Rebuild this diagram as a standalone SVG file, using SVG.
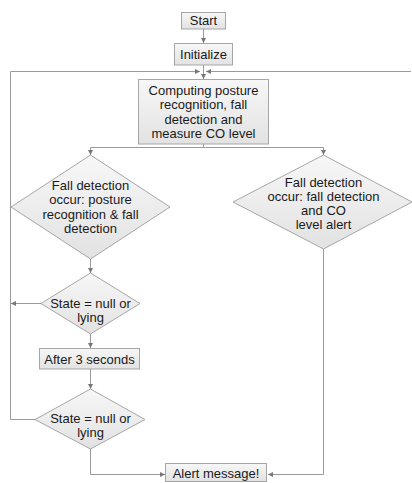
<svg xmlns="http://www.w3.org/2000/svg" width="412" height="483" viewBox="0 0 412 483">
<defs>
<linearGradient id="g" x1="0" y1="0" x2="0" y2="1">
<stop offset="0" stop-color="#f7f7f7"/>
<stop offset="1" stop-color="#e2e2e2"/>
</linearGradient>
<marker id="a" viewBox="0 0 6 6" refX="6" refY="3" markerWidth="5" markerHeight="5" orient="auto" markerUnits="userSpaceOnUse">
<path d="M0,0 L6,3 L0,6 z" fill="#777"/>
</marker>
<style>
.n{fill:url(#g);stroke:#a6a6a6;stroke-width:1}
.c{fill:none;stroke:#9a9a9a;stroke-width:1}
.t{font-family:"Liberation Sans",Arial,sans-serif;font-size:13px;fill:#1a1a1a;text-anchor:middle}
</style>
</defs>
<rect width="412" height="483" fill="#fff"/>
<g id="connectors">
<path class="c" d="M203.5,29 V43" marker-end="url(#a)"/>
<path class="c" d="M203.5,65 V79" marker-end="url(#a)"/>
<path class="c" d="M35,419.5 H10.5 V71.5 H200" marker-end="url(#a)"/>
<path class="c" d="M411,71.5 H206" marker-end="url(#a)"/>
<path class="c" d="M41,303.5 H11" marker-end="url(#a)"/>
<path class="c" d="M203.5,144 V147.5 H90.5 V155" marker-end="url(#a)"/>
<path class="c" d="M203.5,147.5 H323.5 V155" marker-end="url(#a)"/>
<path class="c" d="M90.5,259 V273" marker-end="url(#a)"/>
<path class="c" d="M90.5,334 V348" marker-end="url(#a)"/>
<path class="c" d="M90.5,369 V389" marker-end="url(#a)"/>
<path class="c" d="M90.5,449 V474.5 H165" marker-end="url(#a)"/>
<path class="c" d="M323.5,249 V474.5 H268" marker-end="url(#a)"/>
</g>
<g id="start">
<rect class="n" x="181.5" y="12.5" width="44" height="16.5"/>
<text class="t" x="203.5" y="25">Start</text>
</g>
<g id="initialize">
<rect class="n" x="174.5" y="43.5" width="58" height="21.5"/>
<text class="t" x="203.5" y="58.5">Initialize</text>
</g>
<g id="compute">
<rect class="n" x="138.5" y="79.5" width="130" height="64.5"/>
<text class="t" x="203.5" y="94.5">Computing posture</text>
<text class="t" x="203.5" y="109">recognition, fall</text>
<text class="t" x="203.5" y="123.5">detection and</text>
<text class="t" x="203.5" y="138">measure CO level</text>
</g>
<g id="decision-posture">
<polygon class="n" points="90.5,155 170,207 90.5,259 11,207"/>
<text class="t" x="90.5" y="189.5">Fall detection</text>
<text class="t" x="90.5" y="204">occur: posture</text>
<text class="t" x="90.5" y="218.5">recognition &amp; fall</text>
<text class="t" x="90.5" y="233">detection</text>
</g>
<g id="decision-co">
<polygon class="n" points="323.5,155 412,202 323.5,249 233,202"/>
<text class="t" x="323.5" y="186.5">Fall detection</text>
<text class="t" x="323.5" y="200.5">occur: fall detection</text>
<text class="t" x="323.5" y="214.5">and CO</text>
<text class="t" x="323.5" y="228.5">level alert</text>
</g>
<g id="state1">
<polygon class="n" points="90.5,273 140,303.5 90.5,334 41,303.5"/>
<text class="t" x="90.5" y="307.5">State = null or</text>
<text class="t" x="90.5" y="321.5">lying</text>
</g>
<g id="wait">
<rect class="n" x="39.5" y="348.5" width="100" height="20.5"/>
<text class="t" x="89.5" y="363.5">After 3 seconds</text>
</g>
<g id="state2">
<polygon class="n" points="90.5,389 145,419.5 90.5,449 35,419.5"/>
<text class="t" x="90.5" y="422.5">State = null or</text>
<text class="t" x="90.5" y="437">lying</text>
</g>
<g id="alert">
<rect class="n" x="165.5" y="463.5" width="101" height="18"/>
<text class="t" x="216" y="477.5">Alert message!</text>
</g>
</svg>
